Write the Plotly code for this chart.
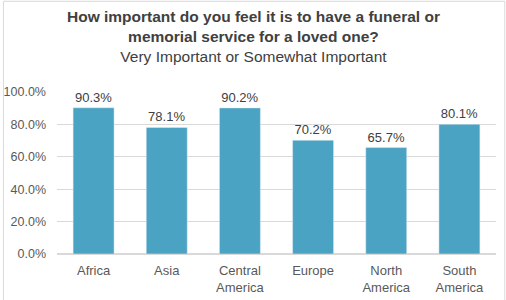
import plotly.graph_objects as go

categories = ["Africa", "Asia", "Central<br>America", "Europe", "North<br>America", "South<br>America"]
values = [90.3, 78.1, 90.2, 70.2, 65.7, 80.1]
labels = [f"{v:.1f}%" for v in values]
tick_vals = [0, 20, 40, 60, 80, 100]
tick_text = [f"{v:.1f}%" for v in tick_vals]

fig = go.Figure(go.Bar(
    x=categories, y=values, text=labels, textposition="outside",
    marker_color="#4BA3C3", cliponaxis=False,
    textfont=dict(family="Arial, Liberation Sans", size=13, color="#404040"),
))

fig.update_layout(
    width=506, height=300,
    margin=dict(l=57, r=10, t=92, b=46),
    paper_bgcolor="white", plot_bgcolor="white",
    bargap=0.44,
    showlegend=False,
    font=dict(family="Arial, Liberation Sans", color="#595959", size=13),
    shapes=[dict(type="rect", xref="paper", yref="paper", x0=-0.122, x1=1.02, y0=-0.3, y1=1.56,
                 line=dict(color="#D9D9D9", width=1))],
    annotations=[
        dict(text="<b>How important do you feel it is to have a funeral or<br>memorial service for a loved one?</b><br>Very Important or Somewhat Important",
             xref="paper", yref="paper", x=0.4465, y=1.0, yshift=86, xanchor="center", yanchor="top",
             showarrow=False, font=dict(size=15.5, color="#404040", family="Arial, Liberation Sans")),
    ],
)
fig.update_yaxes(range=[0, 100], tickvals=tick_vals, ticktext=tick_text, gridcolor="#D9D9D9",
                 zeroline=True, zerolinecolor="#D9D9D9", showline=False, ticks="", ticklen=0,
                 ticklabelstandoff=10, automargin=False, tickfont=dict(size=12.5, color="#595959"))
fig.update_xaxes(showline=False, ticks="", tickfont=dict(size=13, color="#595959"),
                 ticklabelstandoff=7, automargin=False)

fig.write_html("out.html")
